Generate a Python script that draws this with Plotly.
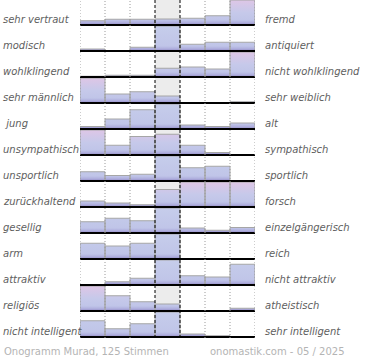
import plotly.graph_objects as go

left_labels = ["sehr vertraut", "modisch", "wohlklingend", "sehr männlich", " jung",
               "unsympathisch", "unsportlich", "zurückhaltend", "gesellig", "arm",
               "attraktiv", "religiös", "nicht intelligent"]
right_labels = ["fremd", "antiquiert", "nicht wohlklingend", "sehr weiblich", "alt",
                "sympathisch", "sportlich", "forsch", "einzelgängerisch", "reich",
                "nicht attraktiv", "atheistisch", "sehr intelligent"]

# relative frequency of each of the 7 scale steps (percent of the row's largest bar)
step1 = [17, 8, 3, 100, 10, 100, 37, 24, 45, 63, 0, 100, 65]
step2 = [23, 0, 7, 36, 40, 39, 22, 16, 59, 52, 13, 61, 33]
step3 = [23, 15, 7, 45, 77, 74, 27, 9, 49, 63, 27, 37, 53]
step4 = [24, 100, 35, 28, 100, 83, 100, 70, 100, 100, 100, 28, 100]
step5 = [27, 27, 40, 0, 16, 39, 53, 100, 20, 0, 37, 0, 12]
step6 = [37, 35, 32, 0, 10, 10, 59, 100, 11, 0, 32, 0, 5]
step7 = [100, 35, 100, 5, 24, 0, 0, 100, 22, 0, 83, 11, 0]

footer_left = "Onogramm Murad, 125 Stimmen"
footer_right = "onomastik.com - 05 / 2025"

steps = [step1, step2, step3, step4, step5, step6, step7]
n_rows = len(left_labels)
n_steps = len(steps)

ROW = 26          # row pitch (axis units = px)
BAR = 25          # full bar height
TOP_OFF = 25
Y_MAX = 338

PINK_SCALE = [[0, "#938ac6"], [0.1, "#b0b0de"], [0.2, "#c0c5e8"], [0.5, "#c6c9ea"], [1, "#dec6e6"]]
BLUE_SCALE = [[0, "#938ac6"], [0.1, "#b0b0de"], [0.2, "#c0c5e8"], [1, "#c6cdeb"]]

fig = go.Figure()
shapes = []
annotations = []

# neutral column background
shapes.append(dict(type="rect", xref="x", yref="y", x0=3, x1=4, y0=0, y1=Y_MAX,
                   fillcolor="#ececec", line=dict(width=0), layer="below"))

for i in range(n_rows):
    base = Y_MAX - TOP_OFF - ROW * i
    vals = [s[i] for s in steps]
    vmax = max(vals)
    center_mode = vals.index(vmax) == 3
    xs, ys = [], []
    for j, v in enumerate(vals):
        if v <= 0:
            continue
        h = v / vmax * BAR
        xs += [j, j, j + 1, j + 1, j, None]
        ys += [base, base + h, base + h, base, base, None]
    fig.add_trace(go.Scatter(
        x=xs, y=ys, mode="lines", fill="toself",
        fillgradient=dict(type="vertical",
                          colorscale=BLUE_SCALE if center_mode else PINK_SCALE,
                          start=base, stop=base + BAR),
        line=dict(color="#a6a6a6", width=1),
        hoverinfo="skip", showlegend=False))
    shapes.append(dict(type="line", xref="x", yref="y", x0=0, x1=7, y0=base, y1=base,
                       line=dict(color="black", width=2), layer="above"))
    annotations.append(dict(xref="paper", yref="y", x=-79 / 175, y=base + 5.5,
                            text=left_labels[i], showarrow=False, xanchor="left",
                            yanchor="middle",
                            font=dict(family="DejaVu Sans", size=10, color="#5e5e5e",
                                      style="italic")))
    annotations.append(dict(xref="paper", yref="y", x=(263 - 80) / 175, y=base + 5.5,
                            text=right_labels[i], showarrow=False, xanchor="left",
                            yanchor="middle",
                            font=dict(family="DejaVu Sans", size=10, color="#5e5e5e",
                                      style="italic")))

for xv in [0, 1, 2, 5, 6, 7]:
    shapes.append(dict(type="line", xref="x", yref="y", x0=xv, x1=xv, y0=0, y1=Y_MAX,
                       line=dict(color="#9a9a9a", width=1, dash="1px,2px"), layer="above"))
for xv in [3, 4]:
    shapes.append(dict(type="line", xref="x", yref="y", x0=xv, x1=xv, y0=0, y1=Y_MAX,
                       line=dict(color="black", width=1, dash="3px,2px"), layer="above"))

annotations.append(dict(xref="paper", yref="paper", x=-78 / 175, y=-13.5 / Y_MAX,
                        text=footer_left, showarrow=False, xanchor="left", yanchor="middle",
                        font=dict(family="DejaVu Sans", size=10, color="#b4b4b4")))
annotations.append(dict(xref="paper", yref="paper", x=(347 - 80) / 175, y=-13.5 / Y_MAX,
                        text=footer_right, showarrow=False, xanchor="right", yanchor="middle",
                        font=dict(family="DejaVu Sans", size=10, color="#b4b4b4")))

fig.update_layout(
    width=370, height=360, autosize=False,
    margin=dict(l=80, r=115, t=0, b=22, pad=0),
    plot_bgcolor="white", paper_bgcolor="white",
    xaxis=dict(range=[0, 7], visible=False, fixedrange=True),
    yaxis=dict(range=[0, Y_MAX], visible=False, fixedrange=True),
    shapes=shapes, annotations=annotations,
)

fig.write_html("out.html", config={"displayModeBar": False},
               post_script="document.body.style.margin='0';document.body.style.overflow='hidden';")
